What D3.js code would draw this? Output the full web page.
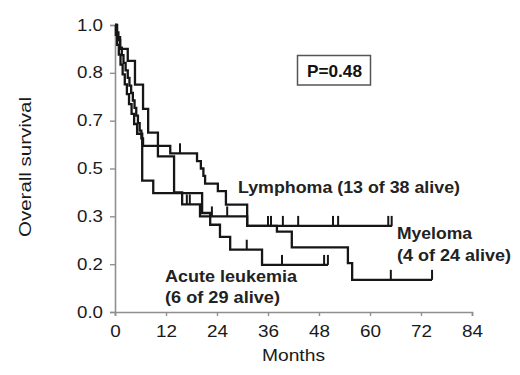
<!DOCTYPE html>
<html>
<head>
<meta charset="utf-8">
<script src="https://cdn.jsdelivr.net/npm/d3@7"></script>
<style>
  html, body { margin: 0; padding: 0; background: #fff; }
  svg { display: block; font-family: "Liberation Sans", Arial, sans-serif; }
</style>
</head>
<body>
<svg id="chart" width="520" height="375"></svg>
<script>
// ---- data ----
const xTicks = [0, 12, 24, 36, 48, 60, 72, 84];
const yTickValues = [0, 1/6, 2/6, 3/6, 4/6, 5/6, 1];
const yTickLabels = ["0.0", "0.2", "0.3", "0.5", "0.7", "0.8", "1.0"];

const lymphTime = [0, 0.3, 0.8, 1.2, 1.6, 2.0, 2.5, 3.0, 3.4, 3.8, 4.2, 4.6, 5.0, 5.4, 5.8, 6.2, 6.6, 13.0, 19.3, 20.2, 20.8, 21.2, 24.2, 26.1, 31.1];
const lymphSurv = [1, .974, .947, .921, .895, .868, .842, .816, .789, .763, .737, .711, .684, .658, .632, .605, .579, .553, .526, .5, .474, .447, .421, .374, .30];
const lymphEnd = 65.2;
const lymphCensor = [15.3, 36.0, 36.7, 39.5, 43.1, 51.3, 52.5, 64.3, 65.1];

const myelTime = [0, 0.5, 1.2, 3.0, 4.7, 6.6, 7.8, 10.1, 13.9, 15.8, 20.0, 31.1, 38.1, 41.6, 54.8, 55.8];
const myelSurv = [1, .958, .917, .875, .792, .708, .625, .542, .417, .375, .333, .30, .28, .225, .17, .112];
const myelEnd = 74.6;
const myelCensor = [16.9, 17.6, 22.8, 26.4, 64.9, 74.6];

const alTime = [0, 0.2, 0.5, 0.9, 1.3, 1.8, 2.3, 2.8, 3.3, 3.9, 4.5, 5.2, 6.4, 9.0, 20.5, 22.4, 24.7, 27.1, 34.6];
const alSurv = [1, .966, .931, .897, .862, .828, .793, .759, .724, .690, .655, .621, .458, .414, .345, .304, .262, .217, .164];
const alEnd = 50.1;
const alCensor = [31.0, 39.3, 49.2, 50.1];

const seriesNames = ["Lymphoma", "Myeloma", "Acute leukemia"];
const pValueText = "P=0.48";

// ---- drawing ----
const svg = d3.select("#chart");
const x = d3.scaleLinear().domain([0, 84]).range([115, 472]);
const y = d3.scaleLinear().domain([0, 1]).range([312, 25]);

const axisColor = "#8f8f8f";
const inkColor = "#161616";

// axes
const gx = svg.append("g").attr("transform", `translate(0,${y(0)})`)
  .call(d3.axisBottom(x).tickValues(xTicks).tickSizeOuter(0).tickSize(4).tickPadding(10));
const gy = svg.append("g").attr("transform", `translate(${x(0)},0)`)
  .call(d3.axisLeft(y).tickValues(yTickValues).tickFormat((d, i) => yTickLabels[i]).tickSizeOuter(0).tickSize(5).tickPadding(7));

[gx, gy].forEach(g => {
  g.select(".domain").attr("stroke", axisColor).attr("stroke-width", 1.6);
  g.selectAll(".tick line").attr("stroke", axisColor).attr("stroke-width", 1.4);
  g.selectAll(".tick text").attr("fill", "#1a1a1a").attr("font-size", 16)
    .attr("font-family", '"Liberation Sans", Arial, sans-serif');
});
gx.selectAll(".tick text").attr("textLength", d => d < 10 ? 10.5 : 21).attr("lengthAdjust", "spacingAndGlyphs");
gy.selectAll(".tick text").attr("textLength", 26).attr("lengthAdjust", "spacingAndGlyphs");

// axis titles
svg.append("text").attr("x", 293.5).attr("y", 361).attr("text-anchor", "middle")
  .attr("font-size", 16.5).attr("fill", "#1a1a1a")
  .attr("textLength", 63).attr("lengthAdjust", "spacingAndGlyphs").text("Months");
svg.append("text").attr("transform", "translate(31,167) rotate(-90)").attr("text-anchor", "middle")
  .attr("font-size", 16.5).attr("fill", "#1a1a1a")
  .attr("textLength", 140).attr("lengthAdjust", "spacingAndGlyphs").text("Overall survival");

// KM curves
function stepPoints(times, surv, end) {
  const pts = times.map((t, i) => [t, surv[i]]);
  pts.push([end, surv[surv.length - 1]]);
  return pts;
}
function survAt(times, surv, t) {
  let s = surv[0];
  for (let i = 0; i < times.length; i++) if (times[i] <= t) s = surv[i];
  return s;
}
const line = d3.line().x(d => x(d[0])).y(d => y(d[1])).curve(d3.curveStepAfter);

const curves = [
  { name: seriesNames[0], t: lymphTime, s: lymphSurv, end: lymphEnd, c: lymphCensor },
  { name: seriesNames[1], t: myelTime, s: myelSurv, end: myelEnd, c: myelCensor },
  { name: seriesNames[2], t: alTime, s: alSurv, end: alEnd, c: alCensor }
];

curves.forEach(cv => {
  svg.append("path").datum(stepPoints(cv.t, cv.s, cv.end))
    .attr("d", line).attr("fill", "none").attr("stroke", inkColor)
    .attr("stroke-width", 2.3).attr("stroke-linejoin", "miter");
  svg.selectAll(null).data(cv.c).enter().append("line")
    .attr("x1", d => x(d)).attr("x2", d => x(d))
    .attr("y1", d => y(survAt(cv.t, cv.s, d)))
    .attr("y2", d => y(survAt(cv.t, cv.s, d)) - 10)
    .attr("stroke", inkColor).attr("stroke-width", 2);
});

// annotations
function label(txt, xp, yp, len, size) {
  svg.append("text").attr("x", xp).attr("y", yp)
    .attr("font-size", size || 16).attr("font-weight", "bold").attr("fill", "#222")
    .attr("textLength", len).attr("lengthAdjust", "spacingAndGlyphs").text(txt);
}
label("Lymphoma (13 of 38 alive)", 238, 192.5, 222, 16.5);
label("Myeloma", 397, 239, 75, 16.5);
label("(4 of 24 alive)", 397, 261, 114, 16.5);
label("Acute leukemia", 165, 281.5, 132, 16.5);
label("(6 of 29 alive)", 165, 303, 115, 16.5);

// P-value box
svg.append("rect").attr("x", 297.5).attr("y", 55.5).attr("width", 73).attr("height", 29.5)
  .attr("fill", "#fff").attr("stroke", "#555").attr("stroke-width", 1.5);
svg.append("text").attr("x", 307).attr("y", 76.5).attr("font-size", 16.5).attr("font-weight", "bold")
  .attr("fill", "#111").attr("textLength", 55).attr("lengthAdjust", "spacingAndGlyphs").text(pValueText);
</script>
</body>
</html>
